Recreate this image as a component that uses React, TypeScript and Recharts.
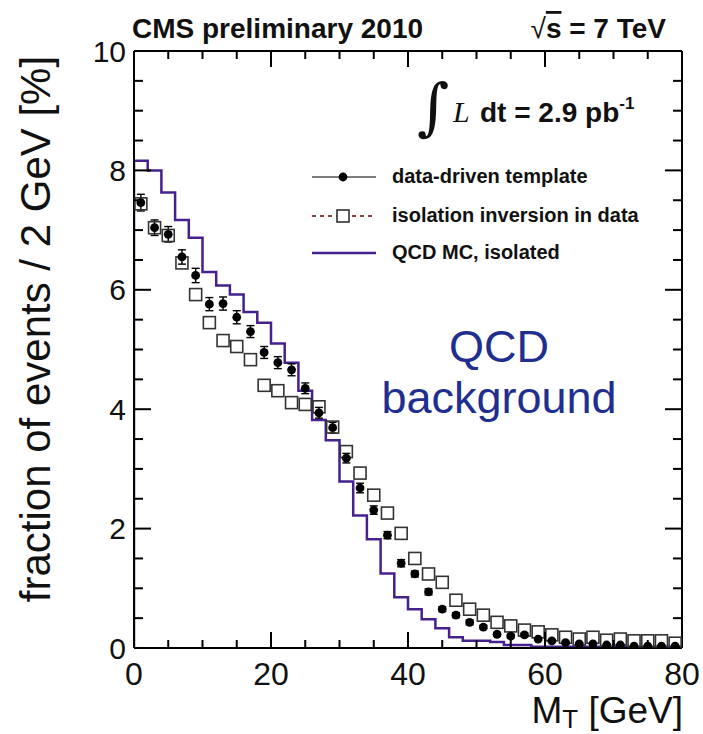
import React from "react";
import {
  ComposedChart,
  Line,
  Scatter,
  ErrorBar,
  XAxis,
  YAxis,
} from "recharts";

// bin centres in GeV (2 GeV bins from 0 to 80)
const binCenters = [
  1, 3, 5, 7, 9, 11, 13, 15, 17, 19, 21, 23, 25, 27, 29, 31, 33, 35, 37, 39,
  41, 43, 45, 47, 49, 51, 53, 55, 57, 59, 61, 63, 65, 67, 69, 71, 73, 75, 77, 79,
];

// data-driven template [%]
const templateValues = [
  7.46, 7.04, 6.93, 6.55, 6.24, 5.76, 5.77, 5.54, 5.3, 4.95, 4.78, 4.66, 4.35,
  3.94, 3.69, 3.18, 2.68, 2.31, 1.89, 1.42, 1.24, 0.94, 0.65, 0.55, 0.43, 0.35,
  0.23, 0.2, 0.22, 0.15, 0.12, 0.09, 0.07, 0.07, 0.05, 0.05, 0.03, 0.03, 0.03,
  0.03,
];
const templateErrors = [
  0.14, 0.13, 0.13, 0.12, 0.12, 0.11, 0.11, 0.11, 0.1, 0.1, 0.1, 0.1, 0.09,
  0.09, 0.09, 0.08, 0.08, 0.07, 0.06, 0.06, 0.05, 0.05, 0.04, 0.04, 0.04, 0.03,
  0.03, 0.03, 0.03, 0.02, 0.02, 0.02, 0.02, 0.02, 0.01, 0.01, 0.01, 0.01, 0.01,
  0.01,
];

// isolation inversion in data [%]
const inversionValues = [
  7.44, 7.04, 6.91, 6.45, 5.92, 5.45, 5.15, 5.05, 4.83, 4.4, 4.31, 4.11, 4.08,
  4.04, 3.7, 3.29, 2.93, 2.56, 2.26, 1.92, 1.5, 1.24, 1.1, 0.8, 0.65, 0.55,
  0.43, 0.37, 0.3, 0.27, 0.22, 0.18, 0.15, 0.18, 0.13, 0.15, 0.12, 0.12, 0.12,
  0.08,
];

// QCD MC, isolated: bin contents for 0-2, 2-4, ... 78-80 GeV [%]
const mcValues = [
  8.16, 8.0, 7.63, 7.17, 6.87, 6.3, 6.07, 5.92, 5.63, 5.45, 5.1, 4.78, 4.31,
  3.82, 3.48, 2.79, 2.22, 1.82, 1.25, 0.85, 0.65, 0.48, 0.33, 0.18, 0.12, 0.12,
  0.1, 0.05, 0.05, 0.02, 0.02, 0.02, 0.02, 0.02, 0.02, 0.02, 0.02, 0.02, 0.02,
  0.02,
];

const xMajorTicks = [0, 20, 40, 60, 80];
const yMajorTicks = [0, 2, 4, 6, 8, 10];
// inner tick marks: every 5 GeV and every 0.5 %
const xTickMarks = Array.from({ length: 15 }, (_, i) => (i + 1) * 5);
const yTickMarks = Array.from({ length: 19 }, (_, i) => (i + 1) * 0.5);

const FONT = "'Liberation Sans', Arial, Helvetica, sans-serif";
const PURPLE = "#46208f";

const W = 703;
const H = 734;
const MARGIN = { top: 50, right: 20, bottom: 85, left: 133 };
// each frame axis is 1px thick, so the plot box starts one pixel further in
const BOX = {
  left: MARGIN.left + 1,
  right: W - MARGIN.right - 1,
  top: MARGIN.top + 1,
  bottom: H - MARGIN.bottom - 1,
};
const sx = (v: number) => BOX.left + (v / 80) * (BOX.right - BOX.left);
const sy = (v: number) => BOX.bottom - (v / 10) * (BOX.bottom - BOX.top);

const templateData = binCenters.map((x, i) => ({
  x,
  y: templateValues[i],
  err: templateErrors[i],
}));
const inversionData = binCenters.map((x, i) => ({ x, y: inversionValues[i] }));
// step histogram: rise from zero at the left edge, then one point per bin edge
const mcData = [
  { x: 0, y: 0 },
  ...mcValues.map((v, i) => ({ x: i * 2, y: v })),
  { x: 80, y: mcValues[mcValues.length - 1] },
];

const isMajorX = (v: number) => v % 20 === 0;
const isMajorY = (v: number) => Math.abs(v - Math.round(v / 2) * 2) < 1e-6;
const xLen = (v: number) => (isMajorX(v) ? 16 : 8);
const yLen = (v: number) => (isMajorY(v) ? 17 : 9);

const BottomLabel = ({ x, y, payload }: any) => (
  <text x={x} y={y + 37} textAnchor="middle" fontSize={32} fontFamily={FONT} fill="#111">
    {payload.value}
  </text>
);

const LeftLabel = ({ x, y, payload }: any) => (
  <text x={x - 8} y={y + 10.5} textAnchor="end" fontSize={30} fontFamily={FONT} fill="#111">
    {payload.value}
  </text>
);

const Dot = ({ cx, cy }: any) => <circle cx={cx} cy={cy} r={4.4} fill="#000" />;
const OpenSquare = ({ cx, cy }: any) => (
  <rect x={cx - 6} y={cy - 6} width={12} height={12} fill="none" stroke="#333" strokeWidth={1.6} />
);

const frame = { stroke: "#000", strokeWidth: 2 };

// inward tick marks on all four sides of the frame
const FrameTicks = () => (
  <g stroke="#000" strokeWidth={2}>
    {xTickMarks.map((v) => (
      <g key={`x${v}`}>
        <line x1={sx(v)} x2={sx(v)} y1={BOX.bottom} y2={BOX.bottom - xLen(v)} />
        <line x1={sx(v)} x2={sx(v)} y1={BOX.top} y2={BOX.top + xLen(v)} />
      </g>
    ))}
    {yTickMarks.map((v) => (
      <g key={`y${v}`}>
        <line x1={BOX.left} x2={BOX.left + yLen(v)} y1={sy(v)} y2={sy(v)} />
        <line x1={BOX.right} x2={BOX.right - yLen(v)} y1={sy(v)} y2={sy(v)} />
      </g>
    ))}
  </g>
);

const Annotations = () => (
  <svg
    width={W}
    height={H}
    style={{ position: "absolute", left: 0, top: 0, pointerEvents: "none" }}
    fontFamily={FONT}
  >
    <FrameTicks />

    <text x={132} y={38} fontSize={28} fontWeight="bold" fill="#111">
      CMS preliminary 2010
    </text>
    <text x={666} y={38} fontSize={28} fontWeight="bold" fill="#111" textAnchor="end">
      <tspan fontWeight="normal">√</tspan>
      <tspan textDecoration="overline">s</tspan> = 7 TeV
    </text>

    <text x={417} y={128} fontSize={62} fontFamily="'DejaVu Serif', serif" fill="#111">
      ∫
    </text>
    <text x={453} y={122} fontSize={30} fontStyle="italic" fontFamily="'Liberation Serif', serif" fill="#111">
      L
    </text>
    <text x={480} y={122} fontSize={28} fontWeight="bold" fill="#111">
      dt = 2.9 pb
      <tspan fontSize={17} dy={-13}>-1</tspan>
    </text>

    {/* legend */}
    <line x1={312} x2={376} y1={177} y2={177} stroke="#000" strokeWidth={1.2} />
    <circle cx={343} cy={177} r={4.4} fill="#000" />
    <text x={392} y={183} fontSize={20} fontWeight="bold" fill="#111">
      data-driven template
    </text>
    <line x1={312} x2={376} y1={216} y2={216} stroke="#5a0a0a" strokeWidth={1.6} strokeDasharray="4 4" />
    <rect x={337} y={210} width={12} height={12} fill="#fff" stroke="#333" strokeWidth={1.6} />
    <text x={392} y={222} fontSize={20} fontWeight="bold" fill="#111">
      isolation inversion in data
    </text>
    <line x1={312} x2={376} y1={253} y2={253} stroke={PURPLE} strokeWidth={2.5} />
    <text x={392} y={259} fontSize={20} fontWeight="bold" fill="#111">
      QCD MC, isolated
    </text>

    <text x={499} y={362} fontSize={45} textAnchor="middle" fill="#1f2f8f">
      QCD
    </text>
    <text x={499} y={413} fontSize={45} textAnchor="middle" fill="#1f2f8f">
      background
    </text>

    <text
      transform="translate(50,329) rotate(-90)"
      fontSize={42}
      textAnchor="middle"
      fill="#111"
    >
      fraction of events / 2 GeV [%]
    </text>
    <text x={683} y={723} fontSize={37} textAnchor="end" fill="#111">
      M<tspan fontSize={26} dy={5}>T</tspan>
      <tspan dy={-5}> [GeV]</tspan>
    </text>
  </svg>
);

export default function App() {
  return (
    <div style={{ position: "absolute", left: 0, top: 0, width: W, height: H, background: "#fff" }}>
      <ComposedChart width={W} height={H} margin={MARGIN}>
        <XAxis
          xAxisId="bottom"
          dataKey="x"
          type="number"
          domain={[0, 80]}
          ticks={xMajorTicks}
          interval={0}
          height={1}
          tickSize={0}
          tickMargin={0}
          tickLine={false}
          tick={<BottomLabel />}
          axisLine={frame}
          allowDataOverflow
        />
        <XAxis
          xAxisId="top"
          orientation="top"
          dataKey="x"
          type="number"
          domain={[0, 80]}
          height={1}
          tickLine={false}
          tick={false}
          axisLine={frame}
          allowDataOverflow
        />
        <YAxis
          yAxisId="left"
          type="number"
          domain={[0, 10]}
          ticks={yMajorTicks}
          interval={0}
          width={1}
          tickSize={0}
          tickMargin={0}
          tickLine={false}
          tick={<LeftLabel />}
          axisLine={frame}
          allowDataOverflow
        />
        <YAxis
          yAxisId="right"
          orientation="right"
          type="number"
          domain={[0, 10]}
          width={1}
          tickLine={false}
          tick={false}
          axisLine={frame}
          allowDataOverflow
        />

        <Line
          xAxisId="bottom"
          yAxisId="left"
          data={mcData}
          dataKey="y"
          type="stepAfter"
          stroke={PURPLE}
          strokeWidth={2.5}
          dot={false}
          isAnimationActive={false}
        />
        <Scatter
          xAxisId="bottom"
          yAxisId="left"
          data={inversionData}
          dataKey="y"
          shape={<OpenSquare />}
          isAnimationActive={false}
        />
        <Scatter
          xAxisId="bottom"
          yAxisId="left"
          data={templateData}
          dataKey="y"
          shape={<Dot />}
          isAnimationActive={false}
        >
          <ErrorBar dataKey="err" direction="y" width={4} stroke="#000" strokeWidth={1.4} isAnimationActive={false} />
        </Scatter>
      </ComposedChart>
      <Annotations />
    </div>
  );
}
